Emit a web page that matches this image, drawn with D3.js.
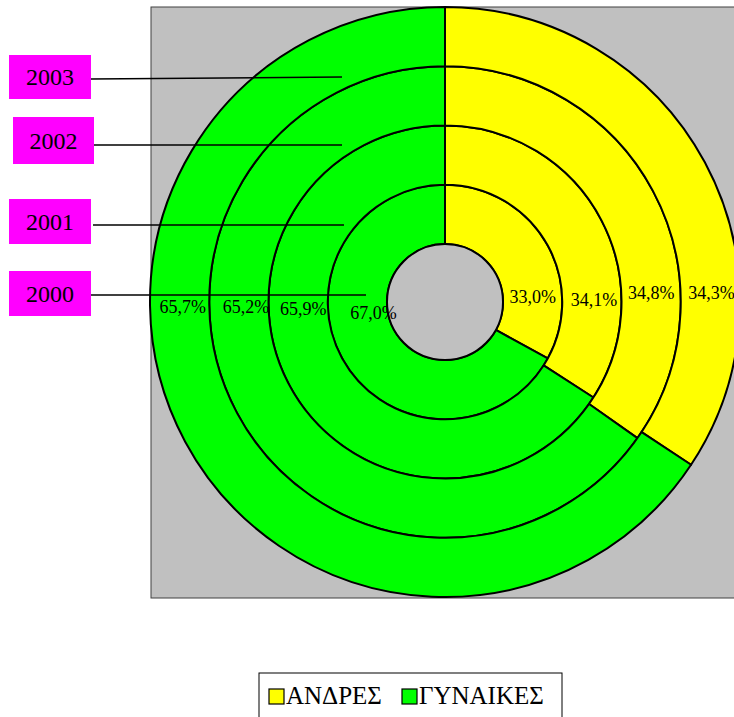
<!DOCTYPE html>
<html>
<head>
<meta charset="utf-8">
<script src="https://cdn.jsdelivr.net/npm/d3@7"></script>
<style>
  body { margin: 0; background: #fff; }
</style>
</head>
<body>
<svg id="chart" width="734" height="717"></svg>
<script>
// data (inner ring = 2000, outer ring = 2003)
const years = ["2000", "2001", "2002", "2003"];
const series = ["ΑΝΔΡΕΣ", "ΓΥΝΑΙΚΕΣ"];
const men = [33.0, 34.1, 34.8, 34.3];
const women = [67.0, 65.9, 65.2, 65.7];
const colors = ["#ffff00", "#00ff00"];

const font = "'Liberation Serif', 'Times New Roman', 'DejaVu Serif', serif";
const cx = 445, cy = 302;
const holeR = 58, outerR = 295;
const svg = d3.select("#chart").attr("font-family", font);

// plot area
svg.append("rect")
    .attr("x", 151).attr("y", 7)
    .attr("width", 620).attr("height", 591)
    .attr("fill", "#c0c0c0")
    .attr("stroke", "#404040").attr("stroke-width", 1);

const ring = d3.scaleBand().domain(years).range([holeR, outerR]).paddingInner(0);
const color = d3.scaleOrdinal().domain(series).range(colors);
const pie = d3.pie().sort(null).value(d => d.value);
const fmt = v => d3.format(".1f")(v).replace(".", ",") + "%";

const g = svg.append("g").attr("transform", `translate(${cx},${cy})`);

years.forEach((yr, i) => {
    const vals = [{ key: series[0], value: men[i] }, { key: series[1], value: women[i] }];
    const arc = d3.arc()
        .innerRadius(ring(yr))
        .outerRadius(ring(yr) + ring.bandwidth());
    g.selectAll(".ring-" + yr)
        .data(pie(vals))
        .join("path")
        .attr("class", "ring-" + yr)
        .attr("d", arc)
        .attr("fill", d => color(d.data.key))
        .attr("stroke", "#000")
        .attr("stroke-width", 2)
        .attr("stroke-linejoin", "round");
});

// hole outline
g.append("circle").attr("r", holeR).attr("fill", "#c0c0c0")
    .attr("stroke", "#000").attr("stroke-width", 2);

// data labels (placed by hand in the original, nudged off the ring middles)
const menNudge = [[0, -5], [2, -2], [0, -9], [1, -9]];
const womenNudge = [[16, 11], [5, 7], [7, 5], [3, 5]];
years.forEach((yr, i) => {
    const mid = ring(yr) + ring.bandwidth() / 2;
    g.append("text")
        .attr("x", mid + menNudge[i][0]).attr("y", menNudge[i][1])
        .attr("text-anchor", "middle").attr("dominant-baseline", "central")
        .attr("font-size", 18).text(fmt(men[i]));
    g.append("text")
        .attr("x", -mid + womenNudge[i][0]).attr("y", womenNudge[i][1])
        .attr("text-anchor", "middle").attr("dominant-baseline", "central")
        .attr("font-size", 18).text(fmt(women[i]));
});

// year callouts with leader lines
const callouts = [
    { year: "2003", box: [9, 55, 82, 44], line: [91, 79, 342, 77] },
    { year: "2002", box: [13, 117, 81, 47], line: [89, 145, 342, 145] },
    { year: "2001", box: [9, 199, 82, 45], line: [93, 225, 344, 225] },
    { year: "2000", box: [9, 271, 82, 45], line: [89, 295, 366, 295] }
];
callouts.forEach(c => {
    svg.append("line")
        .attr("x1", c.line[0]).attr("y1", c.line[1])
        .attr("x2", c.line[2]).attr("y2", c.line[3])
        .attr("stroke", "#000").attr("stroke-width", 1.6);
    svg.append("rect")
        .attr("x", c.box[0]).attr("y", c.box[1])
        .attr("width", c.box[2]).attr("height", c.box[3])
        .attr("fill", "#ff00ff");
    svg.append("text")
        .attr("x", c.box[0] + c.box[2] / 2).attr("y", c.box[1] + c.box[3] / 2)
        .attr("text-anchor", "middle").attr("dominant-baseline", "central")
        .attr("font-size", 24).text(c.year);
});

// legend
const legend = svg.append("g");
legend.append("rect")
    .attr("x", 259).attr("y", 673).attr("width", 303).attr("height", 60)
    .attr("fill", "#fff").attr("stroke", "#000").attr("stroke-width", 1);
const legX = [269, 402];
series.forEach((s, i) => {
    legend.append("rect")
        .attr("x", legX[i]).attr("y", 689).attr("width", 15).attr("height", 15)
        .attr("fill", color(s)).attr("stroke", "#000").attr("stroke-width", 1.2);
    legend.append("text")
        .attr("x", legX[i] + 17).attr("y", 704)
        .attr("font-size", 25).text(s);
});
</script>
</body>
</html>
